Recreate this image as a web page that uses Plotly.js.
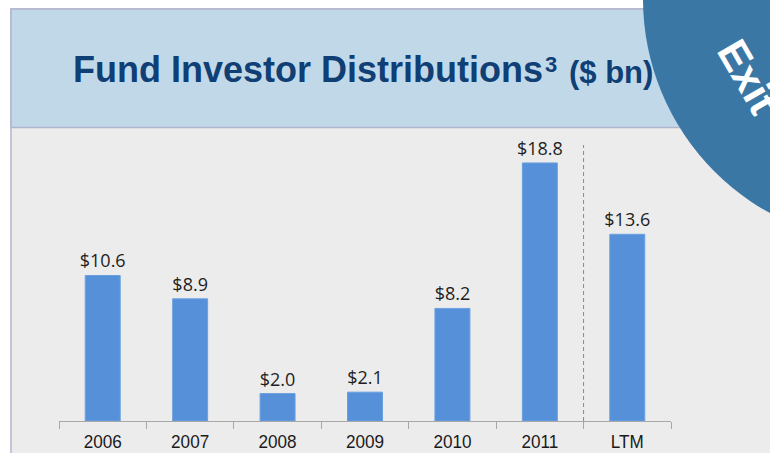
<!DOCTYPE html>
<html>
<head>
<meta charset="utf-8">
<script src="https://cdn.plot.ly/plotly-3.0.1.min.js"></script>
<style>html,body{margin:0;padding:0;background:#fff;}#chart{width:770px;height:453px;}</style>
</head>
<body>
<div id="chart"></div>
<script>
// ---- data ----
const categories = ["2006", "2007", "2008", "2009", "2010", "2011", "LTM"];
const distributions = [10.6, 8.9, 2.0, 2.1, 8.2, 18.8, 13.6];
const valueLabels = distributions.map(v => "$" + v.toFixed(1));
const titleMain = "Fund Investor Distributions";
const titleNote = "3";
const titleUnit = "($ bn)";
const badgeText = "Exit";

// ---- layout geometry (pixels) ----
const L = 59, R = 671, T = 119, B = 421;
const px2x = px => (px - L) / (R - L);
const py2y = py => (B - py) / (B - T);

const trace = {
  type: "bar",
  x: categories,
  y: distributions,
  width: 0.4,
  marker: {color: "#5590d8", line: {color: "#6aa0e0", width: 1}},
  text: valueLabels,
  textposition: "outside",
  constraintext: "none",
  textfont: {family: "Open Sans, Liberation Sans, sans-serif", size: 18, color: "#1e1e1e"},
  cliponaxis: false,
  hoverinfo: "skip"
};

const layout = {
  width: 770, height: 453,
  margin: {l: L, r: 770 - R, t: T, b: 453 - B, pad: 0},
  paper_bgcolor: "#ffffff",
  plot_bgcolor: "rgba(0,0,0,0)",
  showlegend: false,
  title: {
    text: titleMain,
    font: {family: "Liberation Sans, Arial, sans-serif", size: 36, color: "#0f3f74", weight: "bold"},
    xref: "container", yref: "container",
    x: 73 / 770, xanchor: "left",
    y: 1 - 69 / 453, yanchor: "middle"
  },
  xaxis: {
    type: "category",
    range: [-0.5, 6.5],
    showline: true, linecolor: "#a8a8a8", linewidth: 1,
    ticks: "outside", tickson: "boundaries", ticklen: 7, tickcolor: "#a8a8a8", tickwidth: 1,
    ticklabelstandoff: 3,
    tickfont: {family: "Liberation Sans, sans-serif", size: 19, color: "#1a1a1a"},
    showgrid: false, zeroline: false, fixedrange: true
  },
  yaxis: {visible: false, range: [0, 22], fixedrange: true},
  shapes: [
    // panel body
    {type: "rect", xref: "paper", yref: "paper", layer: "below",
     x0: px2x(11), x1: px2x(775), y0: py2y(460), y1: py2y(9),
     fillcolor: "#ececec", line: {color: "#b2b5cf", width: 1.5}},
    // header band
    {type: "rect", xref: "paper", yref: "paper", layer: "below",
     x0: px2x(11), x1: px2x(775), y0: py2y(127.5), y1: py2y(9),
     fillcolor: "#c1d8e9", line: {color: "#b2b5cf", width: 1.5}},
    // dashed divider
    {type: "line", xref: "x", yref: "paper", layer: "below",
     x0: 5.5, x1: 5.5, y0: 0, y1: py2y(145),
     line: {color: "#5b8fd6", width: 1, dash: "4px,3px"}},
    // exit badge
    {type: "circle", xref: "paper", yref: "paper", layer: "above",
     x0: px2x(887 - 244), x1: px2x(887 + 244), y0: py2y(-1 + 244), y1: py2y(-1 - 244),
     fillcolor: "#3b77a5", line: {width: 0}}
  ],
  annotations: [
    {xref: "paper", yref: "paper", x: px2x(543), y: py2y(64.5), xanchor: "left", yanchor: "middle",
     text: titleNote, showarrow: false,
     font: {family: "Liberation Sans, Arial, sans-serif", size: 22, color: "#0f3f74", weight: "bold"}},
    {xref: "paper", yref: "paper", x: px2x(567), y: py2y(72), xanchor: "left", yanchor: "middle",
     text: titleUnit, showarrow: false,
     font: {family: "Liberation Sans, Arial, sans-serif", size: 31, color: "#0f3f74", weight: "bold"}},
    {xref: "paper", yref: "paper", x: px2x(748), y: py2y(76), xanchor: "center", yanchor: "middle",
     text: badgeText, showarrow: false, textangle: 60,
     font: {family: "Liberation Sans, Arial, sans-serif", size: 42, color: "#ffffff", weight: "bold"}}
  ]
};

Plotly.newPlot("chart", [trace], layout, {displayModeBar: false, staticPlot: true}).then(gd => {
  // condense the category labels horizontally, as in the reference
  gd.querySelectorAll(".xtick text").forEach(t => {
    const w = t.getComputedTextLength();
    t.setAttribute("textLength", (w * 0.9).toFixed(1));
    t.setAttribute("lengthAdjust", "spacingAndGlyphs");
  });
});
</script>
</body>
</html>
